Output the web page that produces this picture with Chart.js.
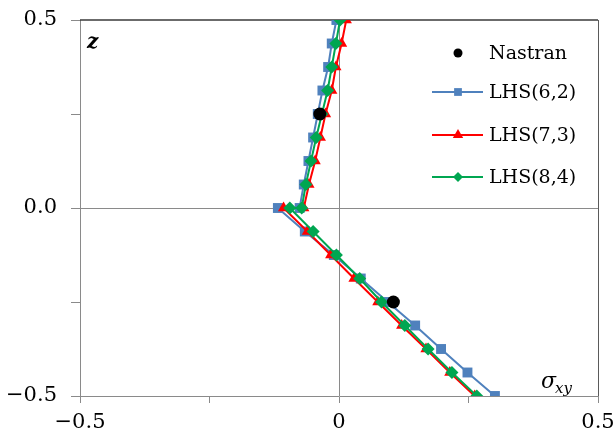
<!DOCTYPE html>
<html>
<head>
<meta charset="utf-8">
<script src="https://cdn.jsdelivr.net/npm/chart.js@4"></script>
<style>
  html, body { margin: 0; padding: 0; background: #ffffff; }
  #wrap { width: 616px; height: 439px; }
</style>
</head>
<body>
<div id="wrap"><canvas id="c" width="616" height="439"></canvas></div>
<script>
// Through-thickness positions: upper layer (0.5 -> 0) followed by lower layer (0 -> -0.5)
const zPoints = [0.5, 0.4375, 0.375, 0.3125, 0.25, 0.1875, 0.125, 0.0625, 0,
                 0, -0.0625, -0.125, -0.1875, -0.25, -0.3125, -0.375, -0.4375, -0.5];

// Shear stress sigma_xy for each LHS model at the positions above
const lhs62 = [-0.005, -0.014, -0.021, -0.032, -0.041, -0.050, -0.059, -0.068, -0.076,
               -0.118, -0.066, -0.010, 0.042, 0.094, 0.147, 0.197, 0.248, 0.301];
const lhs73 = [0.014, 0.005, -0.006, -0.014, -0.026, -0.036, -0.046, -0.058, -0.068,
               -0.107, -0.061, -0.016, 0.029, 0.075, 0.121, 0.168, 0.214, 0.262];
const lhs84 = [0.002, -0.006, -0.014, -0.022, -0.033, -0.044, -0.054, -0.064, -0.072,
               -0.095, -0.050, -0.005, 0.040, 0.082, 0.127, 0.172, 0.218, 0.266];

// Reference solution
const nastranZ = [0.25, -0.25];
const nastranS = [-0.037, 0.105];

const seriesLabels = ['Nastran', 'LHS(6,2)', 'LHS(7,3)', 'LHS(8,4)'];

const xTicks = [-0.5, -0.25, 0, 0.25, 0.5];
const xTickLabels = ['\u22120.5', '', '0', '', '0.5'];
const yTicks = [-0.5, -0.25, 0, 0.25, 0.5];
const yTickLabels = ['\u22120.5', '', '0.0', '', '0.5'];

const toPoints = (xs, ys) => xs.map((v, i) => ({ x: v, y: ys[i] }));

const BLUE = '#4F81BD';
const RED = '#FF0000';
const GREEN = '#00A651';
const AXIS = '#8a8a8a';
const SERIF = "'DejaVu Serif', 'Liberation Serif', serif";

// Plot frame: dark top edge and right edge
const framePlugin = {
  id: 'frame',
  beforeDatasetsDraw(chart) {
    const { ctx, chartArea: a } = chart;
    ctx.save();
    ctx.strokeStyle = '#3a3a3a';
    ctx.lineWidth = 1.5;
    ctx.beginPath();
    ctx.moveTo(a.left, a.top);
    ctx.lineTo(a.right, a.top);
    ctx.stroke();
    ctx.strokeStyle = '#5a5a5a';
    ctx.lineWidth = 1;
    ctx.beginPath();
    ctx.moveTo(a.right + 0.5, a.top);
    ctx.lineTo(a.right + 0.5, a.bottom);
    ctx.stroke();
    ctx.restore();
  }
};

function drawMarker(ctx, style, x, y, r, color) {
  ctx.fillStyle = color;
  ctx.beginPath();
  if (style === 'circle') {
    ctx.arc(x, y, r, 0, Math.PI * 2);
  } else if (style === 'rect') {
    const s = r * Math.SQRT1_2;
    ctx.rect(x - s, y - s, 2 * s, 2 * s);
  } else if (style === 'triangle') {
    for (let k = 0; k < 3; k++) {
      const ang = k * 2 * Math.PI / 3;
      const px = x + Math.sin(ang) * r;
      const py = y - Math.cos(ang) * r;
      if (k === 0) ctx.moveTo(px, py); else ctx.lineTo(px, py);
    }
    ctx.closePath();
  } else if (style === 'rectRot') {
    ctx.moveTo(x, y - r);
    ctx.lineTo(x + r, y);
    ctx.lineTo(x, y + r);
    ctx.lineTo(x - r, y);
    ctx.closePath();
  }
  ctx.fill();
}

// Axis titles and the in-plot legend
const labelsPlugin = {
  id: 'labels',
  afterDatasetsDraw(chart) {
    const { ctx, chartArea: a } = chart;
    ctx.save();
    ctx.fillStyle = '#000';
    ctx.textBaseline = 'alphabetic';
    ctx.textAlign = 'left';

    ctx.font = "italic bold 20px " + SERIF;
    ctx.fillText('z', a.left + 7, a.top + 28);

    ctx.font = "italic 22px " + SERIF;
    ctx.fillText('\u03C3', a.right - 57, a.bottom - 8);
    ctx.font = "italic 15px " + SERIF;
    ctx.fillText('xy', a.right - 43, a.bottom - 3);

    const rows = [53, 92, 135, 177];
    const mx = 458, lx0 = 432, lx1 = 483, tx = 489;
    chart.data.datasets.forEach((ds, i) => {
      const y = rows[i];
      if (ds.showLine !== false) {
        ctx.strokeStyle = ds.borderColor;
        ctx.lineWidth = 2;
        ctx.beginPath();
        ctx.moveTo(lx0, y);
        ctx.lineTo(lx1, y);
        ctx.stroke();
      }
      drawMarker(ctx, ds.pointStyle, mx, y, ds.legendRadius, ds.pointBackgroundColor);
      ctx.fillStyle = '#000';
      ctx.font = "19px " + SERIF;
      ctx.textBaseline = 'middle';
      ctx.fillText(ds.label, tx, y + 1);
    });
    ctx.restore();
  }
};

const zeroGrid = (ctx) => (ctx.tick && ctx.tick.value === 0) ? AXIS : 'rgba(0,0,0,0)';

new Chart(document.getElementById('c'), {
  type: 'scatter',
  data: {
    datasets: [
      {
        label: seriesLabels[0],
        data: toPoints(nastranS, nastranZ),
        showLine: false,
        pointStyle: 'circle',
        pointRadius: 6.5,
        legendRadius: 4.5,
        pointBackgroundColor: '#000000',
        pointBorderColor: '#000000',
        pointBorderWidth: 0,
        order: 0
      },
      {
        label: seriesLabels[1],
        data: toPoints(lhs62, zPoints),
        showLine: true,
        borderColor: BLUE,
        borderWidth: 2,
        pointStyle: 'rect',
        pointRadius: 7,
        legendRadius: 5.5,
        pointBackgroundColor: BLUE,
        pointBorderColor: BLUE,
        pointBorderWidth: 0,
        order: 3
      },
      {
        label: seriesLabels[2],
        data: toPoints(lhs73, zPoints),
        showLine: true,
        borderColor: RED,
        borderWidth: 2,
        pointStyle: 'triangle',
        pointRadius: 6.5,
        legendRadius: 6,
        pointBackgroundColor: RED,
        pointBorderColor: RED,
        pointBorderWidth: 0,
        order: 2
      },
      {
        label: seriesLabels[3],
        data: toPoints(lhs84, zPoints),
        showLine: true,
        borderColor: GREEN,
        borderWidth: 2,
        pointStyle: 'rectRot',
        pointRadius: 6.5,
        legendRadius: 5,
        pointBackgroundColor: GREEN,
        pointBorderColor: GREEN,
        pointBorderWidth: 0,
        order: 1
      }
    ]
  },
  options: {
    responsive: false,
    animation: false,
    events: [],
    layout: { padding: { left: 0, right: 18, top: 20, bottom: 0 } },
    plugins: {
      legend: { display: false },
      tooltip: { enabled: false }
    },
    elements: { line: { tension: 0 } },
    scales: {
      x: {
        type: 'linear',
        min: -0.5,
        max: 0.5,
        afterBuildTicks: (s) => { s.ticks = xTicks.map(v => ({ value: v })); },
        afterFit: (s) => { s.height = 43; s.paddingLeft = 0; s.paddingRight = 0; },
        ticks: {
          callback: (v, i) => xTickLabels[i],
          color: '#000',
          font: { family: SERIF, size: 21 },
          padding: 7,
          maxRotation: 0,
          autoSkip: false
        },
        grid: {
          color: zeroGrid,
          tickColor: AXIS,
          tickLength: 7,
          lineWidth: 1
        },
        border: { display: true, color: AXIS, width: 1 }
      },
      y: {
        type: 'linear',
        position: 'left',
        min: -0.5,
        max: 0.5,
        afterBuildTicks: (s) => { s.ticks = yTicks.map(v => ({ value: v })); },
        afterFit: (s) => { s.width = 80; s.paddingTop = 0; s.paddingBottom = 0; },
        ticks: {
          callback: (v, i) => yTickLabels[i],
          color: '#000',
          font: { family: SERIF, size: 21 },
          padding: 14,
          autoSkip: false
        },
        grid: {
          color: zeroGrid,
          tickColor: AXIS,
          tickLength: 9,
          lineWidth: 1
        },
        border: { display: true, color: AXIS, width: 1 }
      }
    }
  },
  plugins: [framePlugin, labelsPlugin]
});
</script>
</body>
</html>
